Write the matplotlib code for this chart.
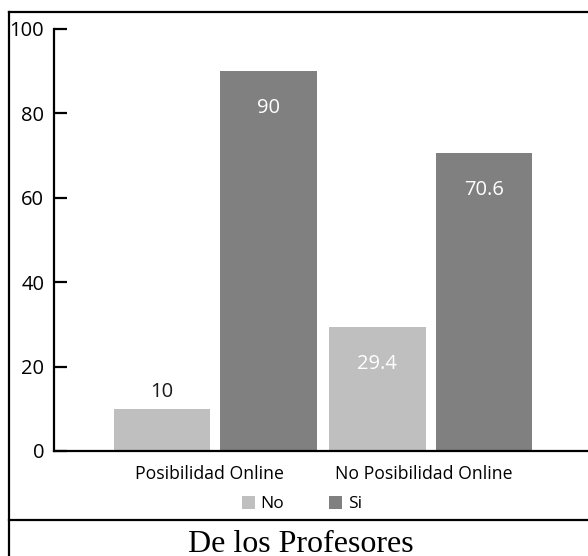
import matplotlib
matplotlib.use("Agg")
import matplotlib.pyplot as plt
from matplotlib.lines import Line2D

# data
categories = ["Posibilidad Online", "No Posibilidad Online"]
series_names = ["No", "Si"]
no_values = [10, 29.4]
si_values = [90, 70.6]
y_ticks = [0, 20, 40, 60, 80, 100]
caption = "De los Profesores"

W, H = 588, 556
fig = plt.figure(figsize=(W / 100, H / 100), dpi=100)
plt.rcParams['font.family'] = ['Open Sans', 'DejaVu Sans']

# axes box in pixels: left 54, bottom 451, top 29, runs to the right edge
ax = fig.add_axes([54 / W, (H - 451) / H, 1 - 54 / W, (451 - 29) / H])

x = list(range(len(categories)))
width = 0.45
off = 0.248
bars_no = ax.bar([i - off for i in x], no_values, width, color='#bfbfbf', label=series_names[0])
bars_si = ax.bar([i + off for i in x], si_values, width, color='#808080', label=series_names[1])

ax.set_xlim(-0.75, 1.731)
ax.set_ylim(0, 100)

# value labels
for b, v in zip(bars_no, no_values):
    cx = b.get_x() + b.get_width() / 2
    if v < 20:
        ax.annotate(f"{v:g}", (cx, v), xytext=(0, 17), textcoords='offset pixels',
                    ha='center', va='center', fontsize=14.5, color='#1a1a1a')
    else:
        ax.annotate(f"{v:g}", (cx, v), xytext=(0, -37), textcoords='offset pixels',
                    ha='center', va='center', fontsize=14.5, color='white')
for b, v in zip(bars_si, si_values):
    cx = b.get_x() + b.get_width() / 2
    ax.annotate(f"{v:g}", (cx, v), xytext=(0, -37), textcoords='offset pixels',
                ha='center', va='center', fontsize=14.5, color='white')

ax.spines['top'].set_visible(False)
ax.spines['right'].set_visible(False)
ax.spines['left'].set_linewidth(1.6)
ax.spines['bottom'].set_linewidth(1.6)

ax.set_yticks(y_ticks)
ax.tick_params(axis='y', direction='in', length=9, width=1.6, pad=7, labelsize=14.5)
ax.set_xticks([i - 0.03 for i in x])
ax.set_xticklabels(categories)
ax.tick_params(axis='x', length=0, pad=10, labelsize=12.7)

fig.legend(handles=[bars_no, bars_si], labels=series_names, loc='center',
           bbox_to_anchor=(302 / W, 1 - 504 / H), ncol=2, frameon=False,
           fontsize=12.5, handlelength=0.75, handleheight=0.8, handletextpad=0.3,
           columnspacing=2.6, borderpad=0)

# outer frame and caption divider
fig.add_artist(Line2D([9 / W, 9 / W], [0, 1 - 12 / H], color='black', lw=1.6))
fig.add_artist(Line2D([9 / W, 1], [1 - 12 / H, 1 - 12 / H], color='black', lw=1.6))
fig.add_artist(Line2D([9 / W, 1], [1 - 520 / H, 1 - 520 / H], color='black', lw=1.6))

fig.text(301 / W, 1 - 552 / H, caption, ha='center', va='baseline',
         fontsize=23, family=['Liberation Serif', 'DejaVu Serif'])

fig.savefig("out.png", dpi=100)
